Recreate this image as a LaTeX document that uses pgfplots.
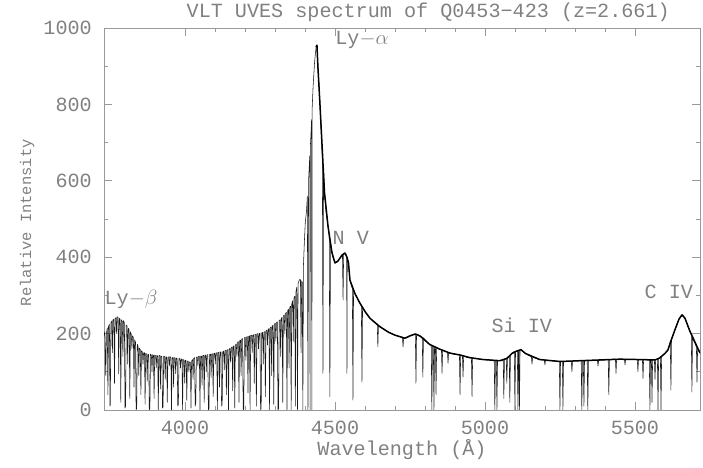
\documentclass[border=0pt]{standalone}
\usepackage{fontspec}
\setmainfont{Liberation Mono}
\usepackage{pgfplots}
\pgfplotsset{compat=1.18}
\newcommand{\bigf}{\fontsize{20.2}{23}\selectfont}
\newcommand{\smallf}{\fontsize{15.5}{18}\selectfont}
\begin{document}
\begin{tikzpicture}[font=\bigf]
\useasboundingbox (0,0) rectangle (703bp,468bp);
\begin{axis}[
 at={(104bp,58bp)}, anchor=south west,
 scale only axis, width=596bp, height=382bp,
 xmin=3730, xmax=5717, ymin=0, ymax=1000,
 xtick={4000,4500,5000,5500}, minor x tick num=4,
 ytick={0,200,...,1000}, minor y tick num=1,
 tick align=inside, major tick length=8bp, minor tick length=4bp,
 axis line style={black!40, line width=0.6bp},
 every tick/.style={black!40, line width=0.6bp},
 /pgf/number format/assume math mode=true,
 /pgf/number format/1000 sep={},
 ticklabel style={text=black!50, font=\bigf},
 xticklabel style={anchor=base, yshift=-24bp, inner sep=0pt},
 yticklabel style={anchor=east, xshift=-12bp, inner sep=0pt},
 xlabel={Wavelength (Å)},
 xlabel style={at={(axis description cs:0.5,0)}, anchor=base, yshift=-45bp, text=black!50, font=\bigf},
 ylabel={Relative Intensity},
 ylabel style={at={(axis description cs:-0.129,0.49)}, anchor=center, text=black!50, font=\smallf},
 title={VLT UVES spectrum of Q0453−423 (z=2.661)},
 title style={at={(axis description cs:0.544,1)}, anchor=base, yshift=5bp, text=black!50, font=\bigf},
]
% full spectrum
\addplot[black!90, line width=0.55bp, line join=round] coordinates {
(3730,195)
(3733,205)(3735,120)(3736,90)(3738,200)
(3741,215)(3743,40)(3745,218)
(3748,225)(3750,10)(3751,15)(3753,228)
(3756,233)(3758,150)(3760,236)
(3763,238)(3765,70)(3767,240)
(3770,242)(3772,200)(3774,244)
(3777,243)(3779,95)(3781,240)
(3784,238)(3786,20)(3788,236)
(3791,232)(3793,140)(3795,234)
(3798,228)(3800,5)(3802,10)(3804,222)
(3807,220)(3809,120)(3811,214)
(3814,210)(3816,30)(3818,205)
(3821,198)(3823,160)(3825,194)
(3828,190)(3830,60)(3832,184)
(3835,178)(3837,0)(3839,5)(3841,172)
(3844,166)(3846,90)(3848,162)
(3851,158)(3853,40)(3855,155)
(3858,152)(3860,120)(3862,150)
(3865,150)(3867,15)(3869,148)
(3872,147)(3874,75)(3876,146)
(3879,145)(3881,0)(3883,3)(3885,146)
(3888,144)(3890,100)(3892,145)
(3895,143)(3897,30)(3899,144)
(3902,142)(3904,110)(3906,143)
(3909,141)(3911,0)(3913,142)
(3916,143)(3918,55)(3920,141)
(3923,140)(3925,5)(3927,8)(3929,141)
(3932,140)(3934,80)(3936,139)
(3939,139)(3941,20)(3943,138)
(3946,139)(3948,115)(3950,140)
(3953,137)(3955,0)(3957,136)
(3960,138)(3962,60)(3964,137)
(3967,136)(3969,95)(3971,136)
(3974,135)(3976,10)(3978,15)(3980,135)
(3983,134)(3985,110)(3987,134)
(3990,133)(3992,0)(3994,132)
(3997,131)(3999,70)(4001,130)
(4004,129)(4006,25)(4008,128)
(4011,127)(4013,100)(4015,126)
(4018,125)(4020,5)(4022,128)
(4025,132)(4027,80)(4029,135)
(4032,137)(4034,10)(4036,20)(4038,138)
(4041,139)(4043,115)(4045,140)
(4048,141)(4050,0)(4052,141)
(4055,141)(4057,65)(4059,142)
(4062,143)(4064,20)(4066,143)
(4069,144)(4071,100)(4073,144)
(4076,145)(4078,0)(4080,4)(4082,146)
(4085,146)(4087,85)(4089,147)
(4092,147)(4094,35)(4096,148)
(4099,149)(4101,120)(4103,149)
(4106,150)(4108,0)(4110,150)
(4113,151)(4115,60)(4117,152)
(4120,152)(4122,10)(4124,15)(4126,153)
(4129,154)(4131,105)(4133,155)
(4136,156)(4138,40)(4140,157)
(4143,158)(4145,0)(4147,160)
(4150,161)(4152,125)(4154,163)
(4157,165)(4159,50)(4161,167)
(4164,168)(4166,5)(4168,170)
(4171,173)(4173,140)(4175,176)
(4178,179)(4180,20)(4182,181)
(4185,183)(4187,90)(4189,185)
(4192,187)(4194,0)(4196,3)(4198,189)
(4201,190)(4203,130)(4205,191)
(4208,192)(4210,45)(4212,193)
(4215,194)(4217,0)(4219,195)
(4222,195)(4224,150)(4226,196)
(4229,197)(4231,70)(4233,197)
(4236,198)(4238,10)(4240,199)
(4243,200)(4245,160)(4247,200)
(4250,201)(4252,0)(4254,5)(4256,202)
(4259,203)(4261,120)(4263,204)
(4266,205)(4268,35)(4270,207)
(4273,209)(4275,170)(4277,211)
(4280,213)(4282,0)(4284,215)
(4287,217)(4289,90)(4291,220)
(4294,222)(4296,15)(4298,225)
(4301,227)(4303,180)(4305,229)
(4308,231)(4310,0)(4312,4)(4314,234)
(4317,236)(4319,140)(4321,240)
(4324,243)(4326,20)(4328,246)
(4331,249)(4333,200)(4335,252)
(4338,256)(4340,0)(4342,260)
(4345,264)(4347,110)(4349,268)
(4352,272)(4354,0)(4356,278)
(4359,286)(4361,180)(4363,292)
(4366,298)(4368,10)(4370,310)
(4373,322)(4375,0)(4377,330)
(4380,338)(4383,342)(4385,341)(4387,150)(4389,338)
(4391,334)(4393,0)(4395,380)(4398,440)(4401,490)(4405,520)
(4408,560)(4410,0)(4412,600)(4415,650)
(4416,665)(4417,0)(4418,690)(4421,740)
(4422,760)(4423,0)(4424,790)(4427,845)
(4432,910)(4437,950)(4440,955)(4443,900)(4447,850)(4450,800)(4454,730)
(4458,660)(4460,96)(4462,630)(4465,570)(4470,520)(4477,480)
(4481,455)(4483,35)(4485,440)(4490,412)(4495,395)(4500,385)(4505,386)(4510,390)(4517,398)(4523,405)
(4525,407)(4527,288)(4529,409)(4533,411)(4537,408)
(4539,402)(4540,96)(4541,398)(4545,385)(4550,340)(4555,325)
(4558,318)(4560,26)(4562,314)(4567,304)(4575,292)(4583,280)
(4588,273)(4590,73)(4592,270)(4600,258)(4610,246)(4617,240)(4630,230)
(4641,223)(4643,165)(4645,221)(4650,218)(4665,210)(4680,203)(4700,196)
(4725,190)(4727,165)(4729,189)(4733,188)(4742,190)(4750,194)(4760,198)
(4768,199)(4770,70)(4772,199)(4778,197)(4785,193)
(4791,190)(4793,86)(4795,189)(4805,180)(4815,172)
(4821,169)(4823,0)(4825,168)
(4828,167)(4830,0)(4832,166)
(4835,165)(4837,40)(4839,164)(4847,160)
(4855,158)(4857,96)(4859,157)(4867,154)
(4875,152)(4877,122)(4879,151)(4890,147)(4905,145)
(4915,144)(4917,40)(4919,143)
(4925,142)(4927,86)(4929,141)(4940,138)
(4955,136)(4957,35)(4959,136)(4975,134)(4995,132)(5015,131)
(5031,130)(5033,0)(5035,130)
(5038,130)(5040,0)(5042,130)(5050,129)(5057,130)
(5061,132)(5063,30)(5065,133)
(5071,135)(5073,70)(5075,137)
(5081,141)(5083,20)(5085,144)(5090,148)(5095,152)
(5098,152)(5100,0)(5102,153)(5105,154)
(5108,155)(5110,0)(5112,156)
(5113,156)(5115,0)(5117,158)(5120,158)(5125,154)(5135,148)(5145,143)
(5155,139)(5157,120)(5159,138)(5170,135)(5183,132)
(5198,131)(5200,118)(5202,131)(5220,129)(5240,128)
(5248,127)(5250,0)(5252,127)
(5258,127)(5260,0)(5262,127)(5275,127)
(5288,128)(5290,100)(5292,128)(5310,129)
(5321,129)(5323,0)(5325,129)
(5328,129)(5330,10)(5332,129)(5337,129)
(5341,129)(5343,0)(5345,129)(5360,130)
(5375,130)(5377,115)(5379,130)(5395,131)
(5411,132)(5413,40)(5415,132)(5425,133)
(5435,133)(5437,96)(5439,133)(5450,133)
(5465,133)(5467,118)(5469,133)(5490,132)
(5508,132)(5510,100)(5512,132)
(5525,132)(5527,83)(5529,132)(5540,131)
(5548,131)(5550,0)(5552,131)
(5555,131)(5557,20)(5559,131)
(5565,131)(5567,80)(5569,132)
(5575,133)(5577,0)(5579,134)(5582,136)
(5585,137)(5587,0)(5589,140)(5595,145)(5600,148)(5605,152)(5610,157)(5615,170)
(5618,178)(5620,52)(5622,185)(5627,195)(5633,209)(5640,225)(5647,238)(5653,246)(5657,249)(5662,247)(5667,240)(5673,228)(5678,215)(5683,207)
(5688,197)(5690,47)(5692,191)(5697,180)(5700,175)
(5705,165)(5707,73)(5709,160)(5713,155)(5717,149)
};
% continuum redward of Ly-alpha (noisy, drawn heavier)
\addplot[black, line width=1.5bp, line join=round] coordinates {
(4437,950)(4440,955)(4443,900)(4450,800)(4465,570)(4477,480)(4490,412)(4500,385)(4510,390)(4523,405)(4533,411)(4540,400)(4545,385)(4550,340)(4567,304)(4583,280)(4600,258)(4617,240)(4650,218)(4680,203)(4700,196)(4733,188)(4750,194)(4768,199)(4785,193)(4815,172)(4847,160)(4883,149)(4917,144)(4950,137)(4995,132)(5050,129)(5073,135)(5090,148)(5105,154)(5120,158)(5135,148)(5183,132)(5250,127)(5317,129)(5383,131)(5450,133)(5517,132)(5567,131)(5582,136)(5600,148)(5610,157)(5620,181)(5633,209)(5647,238)(5657,249)(5667,240)(5683,207)(5700,178)(5717,149)
};
\node[text=black!50] at (axis cs:4590,968) {Ly$-\alpha$};
\node[text=black!50] at (axis cs:4553,450) {N V};
\node[text=black!50] at (axis cs:3820,290) {Ly$-\beta$};
\node[text=black!50] at (axis cs:5123,222) {Si IV};
\node[text=black!50] at (axis cs:5613,309) {C IV};
\end{axis}
\end{tikzpicture}
\end{document}
